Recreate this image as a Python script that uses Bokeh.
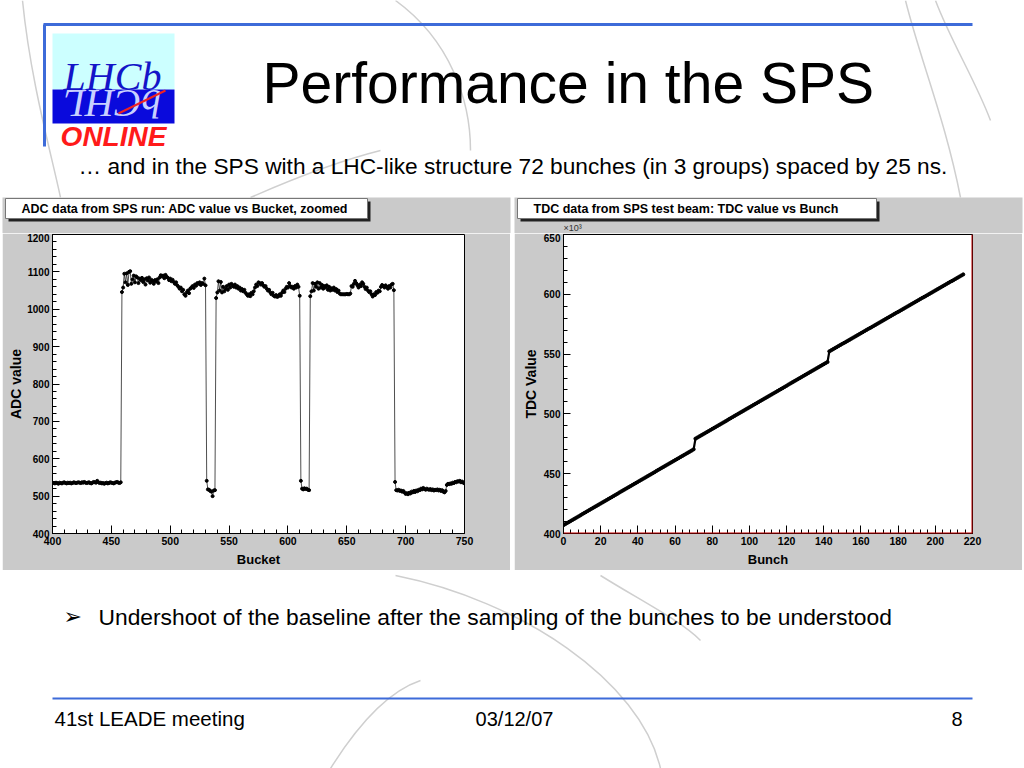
import math
from bokeh.plotting import figure
from bokeh.layouts import column, row
from bokeh.models import Range1d, SingleIntervalTicker, Span, Spacer
from bokeh.embed import file_html
from bokeh.resources import INLINE
from bokeh.core.properties import value

# ---------------- texts ----------------
SLIDE_TITLE = "Performance in the SPS"
SUBTITLE = "\u2026 and in the SPS with a LHC-like structure 72 bunches (in 3 groups) spaced by 25 ns."
BULLET_MARK = "\u27a2"
BULLET_TEXT = "Undershoot of the baseline after the sampling of the bunches to be understood"
FOOTER_LEFT = "41st LEADE meeting"
FOOTER_MID = "03/12/07"
FOOTER_RIGHT = "8"
ADC_TITLE = "ADC data from SPS run: ADC value vs Bucket, zoomed"
TDC_TITLE = "TDC data from SPS test beam: TDC value vs Bunch"
TDC_EXPONENT = "\u00d710\u00b3"

# ---------------- ADC data (bucket 400 .. 750) ----------------
adc_first_bucket = 400
baseline_pre = [536, 535, 534, 536, 535, 533, 536, 535, 534, 536,
                537, 535, 534, 536, 535, 536, 534, 535, 537, 536,
                535, 536, 537, 536, 535, 537, 536, 538, 536, 535,
                536, 537, 535, 534, 536, 538, 537, 536, 541, 537,
                535, 536, 534, 535, 533, 535, 536, 534, 535, 537,
                536, 535, 534, 536, 537, 538, 536, 535, 537]
train_1 = [1046, 1058, 1095, 1072, 1096, 1065, 1100, 1102, 1068, 1080,
           1090, 1072, 1088, 1085, 1070, 1082, 1078, 1084, 1073, 1080,
           1066, 1083, 1077, 1085, 1071, 1079, 1075, 1068, 1078, 1074,
           1080, 1070, 1085, 1091, 1088, 1090, 1083, 1092, 1087, 1084,
           1078, 1082, 1075, 1079, 1073, 1068, 1072, 1064, 1060, 1055,
           1058, 1048, 1052, 1040, 1036, 1045, 1050, 1043, 1055, 1058,
           1062, 1057, 1066, 1063, 1070, 1068, 1072, 1065, 1070, 1068,
           1082, 1064]
gap_1 = [541, 518, 517, 514, 512, 500, 515, 516]
train_2 = [1030, 1045, 1075, 1050, 1073, 1045, 1060, 1048, 1055, 1062,
           1052, 1066, 1058, 1068, 1064, 1060, 1066, 1058, 1062, 1055,
           1058, 1050, 1054, 1048, 1052, 1044, 1040, 1036, 1040, 1035,
           1044, 1040, 1048, 1058, 1066, 1062, 1072, 1070, 1066, 1070,
           1064, 1060, 1062, 1055, 1050, 1052, 1045, 1040, 1044, 1036,
           1034, 1038, 1033, 1035, 1040, 1036, 1044, 1050, 1046, 1055,
           1060, 1058, 1070, 1062, 1058, 1060, 1055, 1062, 1058, 1066,
           1060, 1036]
gap_2 = [541, 520, 518, 521, 519, 520, 517, 516]
train_3 = [1035, 1048, 1070, 1050, 1068, 1060, 1072, 1055, 1070, 1058,
           1065, 1055, 1062, 1058, 1064, 1052, 1060, 1050, 1056, 1052,
           1058, 1050, 1054, 1046, 1050, 1042, 1040, 1040, 1040, 1040,
           1040, 1041, 1040, 1040, 1042, 1062, 1060, 1068, 1076, 1070,
           1064, 1058, 1066, 1062, 1072, 1068, 1060, 1054, 1058, 1050,
           1046, 1048, 1040, 1034, 1040, 1038, 1046, 1044, 1050, 1048,
           1060, 1065, 1062, 1058, 1064, 1060, 1055, 1062, 1058, 1066,
           1068, 1051]
baseline_post = [538, 516, 515, 517, 514, 515, 512, 514, 510, 506,
                 508, 505, 509, 507, 512, 510, 514, 511, 515, 513,
                 517, 516, 520, 518, 522, 519, 517, 520, 518, 517,
                 519, 516, 518, 515, 517, 516, 518, 515, 517, 514,
                 516, 512, 510, 514, 530, 533, 532, 534, 533, 536,
                 535, 538, 537, 540, 539, 541, 537, 539, 536, 534]

adc_values = baseline_pre + train_1 + gap_1 + train_2 + gap_2 + train_3 + baseline_post
adc_buckets = list(range(adc_first_bucket, adc_first_bucket + len(adc_values)))

# ---------------- TDC data (x10^3), bunch 0 .. 215 ----------------
tdc_group_1 = [407.0, 407.9, 408.8, 409.7, 410.6, 411.5, 412.4, 413.3, 414.2, 415.1,
               416.1, 417.0, 417.9, 418.8, 419.7, 420.6, 421.5, 422.4, 423.3, 424.2,
               425.1, 426.0, 426.9, 427.8, 428.7, 429.6, 430.5, 431.4, 432.3, 433.2,
               434.2, 435.1, 436.0, 436.9, 437.8, 438.7, 439.6, 440.5, 441.4, 442.3,
               443.2, 444.1, 445.0, 445.9, 446.8, 447.7, 448.6, 449.5, 450.4, 451.3,
               452.3, 453.2, 454.1, 455.0, 455.9, 456.8, 457.7, 458.6, 459.5, 460.4,
               461.3, 462.2, 463.1, 464.0, 464.9, 465.8, 466.7, 467.6, 468.5, 469.4,
               470.4]
tdc_group_2 = [479.3, 480.2, 481.1, 482.0, 482.9, 483.8, 484.7, 485.6, 486.5, 487.4,
               488.3, 489.2, 490.1, 491.0, 491.9, 492.8, 493.7, 494.6, 495.6, 496.5,
               497.4, 498.3, 499.2, 500.1, 501.0, 501.9, 502.8, 503.7, 504.6, 505.5,
               506.4, 507.3, 508.2, 509.1, 510.0, 510.9, 511.8, 512.7, 513.6, 514.5,
               515.4, 516.3, 517.2, 518.1, 519.0, 519.9, 520.8, 521.7, 522.6, 523.5,
               524.5, 525.4, 526.3, 527.2, 528.1, 529.0, 529.9, 530.8, 531.7, 532.6,
               533.5, 534.4, 535.3, 536.2, 537.1, 538.0, 538.9, 539.8, 540.7, 541.6,
               542.5, 543.4]
tdc_group_3 = [552.3, 553.2, 554.1, 555.0, 555.9, 556.8, 557.7, 558.6, 559.4, 560.3,
               561.2, 562.1, 563.0, 563.9, 564.8, 565.7, 566.6, 567.5, 568.4, 569.3,
               570.2, 571.1, 571.9, 572.8, 573.7, 574.6, 575.5, 576.4, 577.3, 578.2,
               579.1, 580.0, 580.9, 581.8, 582.7, 583.6, 584.5, 585.3, 586.2, 587.1,
               588.0, 588.9, 589.8, 590.7, 591.6, 592.5, 593.4, 594.3, 595.2, 596.1,
               597.0, 597.8, 598.7, 599.6, 600.5, 601.4, 602.3, 603.2, 604.1, 605.0,
               605.9, 606.8, 607.7, 608.6, 609.5, 610.4, 611.2, 612.1, 613.0, 613.9,
               614.8, 615.7, 616.6]
tdc_values = tdc_group_1 + tdc_group_2 + tdc_group_3
tdc_bunches = list(range(len(tdc_values)))

# ---------------- styles ----------------
SANS = value("Liberation Sans")
SERIF = value("Liberation Serif")
BLUE = "#3d6bd9"
PANEL_GRAY = "#cacaca"
WM = "#cfcfcf"


def neg(vals):
    return [-v for v in vals]


def deco_figure(width, height, top, bottom):
    # slide pixel coordinates: x to the right, y = -(pixels from the top)
    f = figure(width=width, height=height, x_range=Range1d(0, width),
               y_range=Range1d(-bottom, -top), toolbar_location=None,
               output_backend="svg", x_axis_type=None, y_axis_type=None,
               min_border=0, outline_line_color=None,
               background_fill_color="white", border_fill_color="white")
    f.grid.visible = False
    return f


def put_text(f, x, y, txt, size, align="left", color="black", style="normal", font=SANS, angle=0.0):
    f.text(x=[x], y=neg([y]), text=[txt], angle=[angle], text_font=font, text_font_style=style,
           text_font_size=size, text_color=color, text_align=align,
           text_baseline="middle")


# ================= header (incl. the plot title paves) =================
head = deco_figure(1024, 233, 0, 233)
head.bezier(x0=[395, 905, 935], y0=neg([0, 0, 0]), x1=[470, 960, 990], y1=neg([150, 197, 120]),
            cx0=[450, 920, 950], cy0=neg([40, 60, 40]), cx1=[470, 945, 975], cy1=neg([100, 120, 80]),
            line_color=WM, line_width=1.5)
head.bezier(x0=[22, 250], y0=neg([0, 197]), x1=[60, 380], y1=neg([197, 150]),
            cx0=[30, 300], cy0=neg([80, 175]), cx1=[50, 340], cy1=neg([150, 160]),
            line_color=WM, line_width=1.5)
head.line(x=[43, 972], y=neg([24, 24]), line_color=BLUE, line_width=3)
head.line(x=[44, 44], y=neg([24, 146]), line_color=BLUE, line_width=3)
# logo
head.quad(left=[52], right=[174], top=neg([33]), bottom=neg([89]), fill_color="#ccffff", line_color=None)
head.quad(left=[52], right=[174], top=neg([89]), bottom=neg([123]), fill_color="#0a0adc", line_color=None)
put_text(head, 112, 76, "LHCb", "40px", align="center", color="#1414c8", style="italic", font=SERIF)
put_text(head, 112, 103, "bCHL", "40px", align="center", color="#c8d0ff", style="italic",
         font=SERIF, angle=math.pi)
head.line(x=[118, 165], y=neg([113, 90]), line_color="#ee2222", line_width=2)
put_text(head, 113, 136, "ONLINE", "28px", align="center", color="#ff1a1a", style="bold italic")
# title and subtitle
put_text(head, 262, 82, SLIDE_TITLE, "57px")
put_text(head, 78, 165, SUBTITLE, "22.7px")
# ROOT canvas tops and title paves
head.quad(left=[2, 514], right=[510, 1022], top=neg([197, 197]), bottom=neg([234, 234]),
          fill_color=PANEL_GRAY, line_color=None)
head.quad(left=[8, 520], right=[370, 879], top=neg([201, 201]), bottom=neg([221, 221]),
          fill_color="#222222", line_color=None)
head.quad(left=[5, 517], right=[367, 876], top=neg([198, 198]), bottom=neg([218, 218]),
          fill_color="white", line_color="#777777", line_width=1)
put_text(head, 21, 208, ADC_TITLE, "12.5px", style="bold")
put_text(head, 533, 208, TDC_TITLE, "12.5px", style="bold")
put_text(head, 563, 227, TDC_EXPONENT, "9px", color="#333333")


# ================= plot panels =================
def root_plot(xr, yr, xint, yint, xlabel, ylabel, left, right):
    p = figure(width=508, height=337, x_range=Range1d(*xr), y_range=Range1d(*yr),
               toolbar_location=None, output_backend="svg",
               min_border_left=left, min_border_right=right,
               min_border_top=1, min_border_bottom=37,
               background_fill_color="white", border_fill_color=PANEL_GRAY,
               outline_line_color="black", outline_line_width=1)
    p.grid.visible = False
    p.xaxis.ticker = SingleIntervalTicker(interval=xint, num_minor_ticks=5)
    p.yaxis.ticker = SingleIntervalTicker(interval=yint, num_minor_ticks=5)
    for ax in (p.xaxis[0], p.yaxis[0]):
        ax.axis_line_color = "black"
        ax.major_tick_line_color = "black"
        ax.minor_tick_line_color = "black"
        ax.major_tick_out = 0
        ax.minor_tick_out = 0
        ax.major_label_text_font = "Liberation Sans"
        ax.major_label_text_font_style = "bold"
        ax.major_label_text_color = "black"
        ax.axis_label_text_font = "Liberation Sans"
        ax.axis_label_text_font_style = "bold"
        ax.axis_label_text_color = "black"
    p.xaxis.major_tick_in = 8
    p.xaxis.minor_tick_in = 4
    p.yaxis.major_tick_in = 7
    p.yaxis.minor_tick_in = 4
    p.xaxis.major_label_text_font_size = "10.5px"
    p.yaxis.major_label_text_font_size = "10px"
    p.xaxis.major_label_standoff = 3
    p.yaxis.major_label_standoff = 3
    p.xaxis.axis_label = xlabel
    p.yaxis.axis_label = ylabel
    p.xaxis.axis_label_text_font_size = "13px"
    p.yaxis.axis_label_text_font_size = "14px"
    p.xaxis.axis_label_standoff = 4
    p.yaxis.axis_label_standoff = 0
    return p


# ---- ADC panel ----
adc = root_plot((400, 750), (400, 1200), 50, 100, "Bucket", "ADC value", 50, 46)
adc.line(x=adc_buckets, y=adc_values, line_color="#222222", line_width=0.8)
adc.scatter(x=adc_buckets, y=adc_values, size=3.0, marker="circle",
            fill_color="black", line_color="black")

# ---- TDC panel ----
tdc = root_plot((0, 220), (400, 650), 20, 50, "Bunch", "TDC Value", 49, 50)
tdc.yaxis.axis_label_standoff = 2
tdc.line(x=tdc_bunches, y=tdc_values, line_color="black", line_width=2.2)
tdc.scatter(x=tdc_bunches, y=tdc_values, size=3.2, marker="circle",
            fill_color="black", line_color="black")
tdc.add_layout(Span(location=220, dimension="height", line_color="#c00000", line_width=2))
tdc.add_layout(Span(location=400, dimension="width", line_color="#c00000", line_width=2))

middle = row(Spacer(width=2, height=337), adc, Spacer(width=4, height=337), tdc,
             Spacer(width=2, height=337), spacing=0)

# ================= footer =================
foot = deco_figure(1024, 198, 570, 768)
foot.bezier(x0=[330, 395, 600], y0=neg([768, 575, 575]), x1=[420, 660, 700], y1=neg([680, 768, 640]),
            cx0=[360, 520, 640], cy0=neg([720, 600, 600]), cx1=[390, 640, 680], cy1=neg([690, 680, 620]),
            line_color=WM, line_width=1.5)
put_text(foot, 63, 616, BULLET_MARK, "22px", font=value("DejaVu Sans"))
put_text(foot, 98, 616, BULLET_TEXT, "22.8px")
foot.line(x=[52, 972], y=neg([698, 698]), line_color=BLUE, line_width=2)
put_text(foot, 54, 718, FOOTER_LEFT, "20.5px")
put_text(foot, 514, 718, FOOTER_MID, "20px", align="center")
put_text(foot, 962, 718, FOOTER_RIGHT, "20px", align="right")

page = column(head, middle, foot, spacing=0)
open("out.html", "w").write(file_html(page, INLINE))
